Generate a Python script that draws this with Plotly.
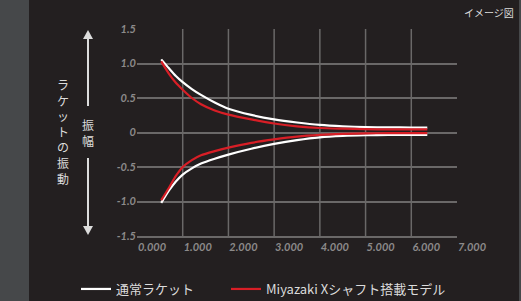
import plotly.graph_objects as go

# ---- data ----
x_vals = [0.53, 0.7, 0.85, 1.0, 1.2, 1.4, 1.7, 2.0, 2.5, 3.0, 3.5, 4.0, 4.5, 5.0, 5.5, 6.0, 6.35]
normal_upper = [1.06, 0.93, 0.82, 0.73, 0.63, 0.545, 0.435, 0.345, 0.255, 0.19, 0.145, 0.11, 0.09, 0.078, 0.074, 0.072, 0.072]
normal_lower = [-1.02, -0.84, -0.71, -0.61, -0.52, -0.45, -0.38, -0.32, -0.235, -0.165, -0.11, -0.07, -0.05, -0.04, -0.035, -0.034, -0.034]
miyazaki_upper = [1.03, 0.85, 0.72, 0.62, 0.50, 0.41, 0.32, 0.26, 0.19, 0.13, 0.09, 0.065, 0.055, 0.048, 0.045, 0.045, 0.045]
miyazaki_lower = [-0.98, -0.80, -0.63, -0.50, -0.40, -0.33, -0.27, -0.22, -0.15, -0.10, -0.06, -0.035, -0.02, -0.012, -0.01, -0.01, -0.01]

series_names = ["通常ラケット", "Miyazaki Xシャフト搭載モデル"]
series_colors = ["#ffffff", "#d81e26"]
x_ticks = [0, 1, 2, 3, 4, 5, 6, 7]
x_ticklabels = ["0.000", "1.000", "2.000", "3.000", "4.000", "5.000", "6.000", "7.000"]
y_ticks = [-1.5, -1.0, -0.5, 0, 0.5, 1.0, 1.5]
y_ticklabels = ["-1.5", "-1.0", "-0.5", "0", "0.5", "1.0", "1.5"]
axis_title = "ラケットの振動"
amp_label = "振幅"

W, H = 521, 301
ML, MR, MT, MB = 137, 64, 29, 65
PW, PH = W - ML - MR, H - MT - MB

def px(xp):
    return (xp - ML) / PW

def py(yp):
    return (H - MB - yp) / PH

BG = "#231f20"
GRID = "#6a6868"
TXT = "#dcdcdc"
TICK = "#8c8a8a"
JP = "Noto Sans CJK JP"

fig = go.Figure()
for i, (name, color, up, lo) in enumerate([
    (series_names[0], series_colors[0], normal_upper, normal_lower),
    (series_names[1], series_colors[1], miyazaki_upper, miyazaki_lower),
]):
    fig.add_trace(go.Scatter(
        x=x_vals + [None] + x_vals,
        y=up + [None] + lo,
        mode="lines",
        name=name,
        legend="legend" if i == 0 else "legend2",
        line=dict(color=color, width=2.2, shape="spline", smoothing=0.7),
        connectgaps=False,
    ))

shapes = []
# background strips
shapes.append(dict(type="rect", xref="paper", yref="paper", x0=px(0), x1=px(29), y0=py(H), y1=py(0),
                   fillcolor="#46484a", line_width=0, layer="below"))
shapes.append(dict(type="rect", xref="paper", yref="paper", x0=px(519), x1=px(W), y0=py(H), y1=py(0),
                   fillcolor="#46484a", line_width=0, layer="below"))
# vertical grid lines
for xv in x_ticks[1:-1]:
    shapes.append(dict(type="line", xref="x", yref="y", x0=xv, x1=xv, y0=-1.5, y1=1.5,
                       line=dict(color=GRID, width=1.5), layer="below"))

# arrows
ax_x = 88
shapes.append(dict(type="line", xref="paper", yref="paper", x0=px(ax_x), x1=px(ax_x), y0=py(37), y1=py(106),
                   line=dict(color=TXT, width=2)))
shapes.append(dict(type="line", xref="paper", yref="paper", x0=px(ax_x), x1=px(ax_x), y0=py(158), y1=py(228),
                   line=dict(color=TXT, width=2)))
shapes.append(dict(type="path", xref="paper", yref="paper",
                   path=f"M {px(ax_x-5)} {py(39)} L {px(ax_x+5)} {py(39)} L {px(ax_x)} {py(30)} Z",
                   fillcolor=TXT, line_width=0))
shapes.append(dict(type="path", xref="paper", yref="paper",
                   path=f"M {px(ax_x-5)} {py(226)} L {px(ax_x+5)} {py(226)} L {px(ax_x)} {py(235)} Z",
                   fillcolor=TXT, line_width=0))

annotations = [
    dict(text="<br>".join(axis_title), xref="paper", yref="paper", x=px(63), y=py(131.5),
         showarrow=False, font=dict(family=JP, size=12, color=TXT),
         xanchor="center", yanchor="middle"),
    dict(text="<br>".join(amp_label), xref="paper", yref="paper", x=px(88), y=py(132),
         showarrow=False, font=dict(family=JP, size=12, color=TXT),
         xanchor="center", yanchor="middle"),
    dict(text="イメージ図", xref="paper", yref="paper", x=px(516), y=py(12),
         showarrow=False, font=dict(family=JP, size=10, color=TXT),
         xanchor="right", yanchor="middle"),
]

leg_common = dict(orientation="h", yanchor="middle", y=(H - 289) / H, yref="container", xref="container",
                  font=dict(family=JP, size=13, color=TXT), bgcolor="rgba(0,0,0,0)",
                  itemwidth=30, xanchor="left")

fig.update_layout(
    width=W, height=H,
    margin=dict(l=ML, r=MR, t=MT, b=MB, pad=0),
    paper_bgcolor=BG, plot_bgcolor=BG,
    shapes=shapes, annotations=annotations,
    showlegend=True,
    legend=dict(x=76 / W, **leg_common),
    legend2=dict(x=226 / W, **leg_common),
    xaxis=dict(range=[0, 7], tickvals=x_ticks, ticktext=x_ticklabels, showgrid=False,
               zeroline=False, showline=True, linecolor=GRID, linewidth=1.5,
               ticks="", ticklabelshift=15,
               tickfont=dict(family="Lato", size=11, color=TICK, style="italic", weight="bold")),
    yaxis=dict(range=[-1.5, 1.5], tickvals=y_ticks, ticktext=y_ticklabels, showgrid=True,
               gridcolor=GRID, gridwidth=1.5, zeroline=False, showline=False, ticks="",
               tickfont=dict(family="Lato", size=11, color=TICK, style="italic", weight="bold")),
)

fig.write_html("out.html", config={"displayModeBar": False},
               post_script="document.body.style.margin='0';document.body.style.background='#231f20';")
